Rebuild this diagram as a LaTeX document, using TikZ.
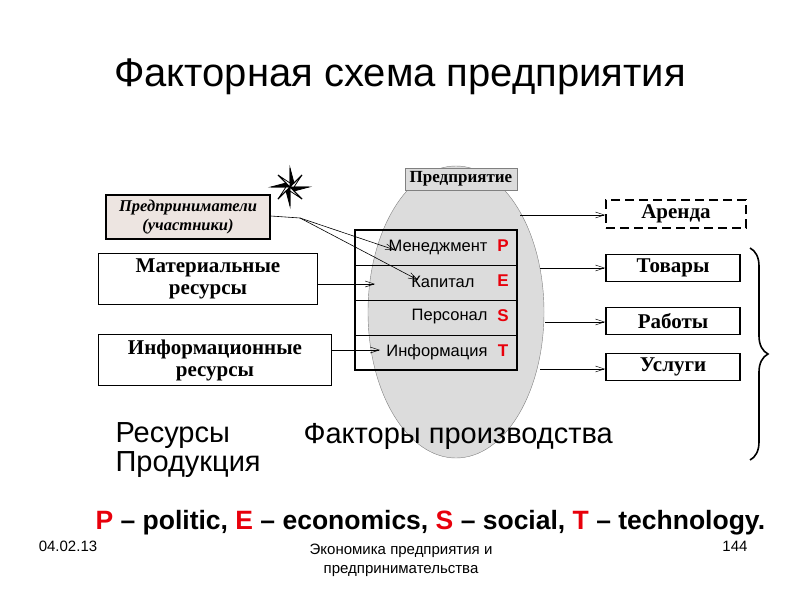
\documentclass[tikz,border=0pt]{standalone}
\usepackage{fontspec}
\setmainfont{Liberation Sans}
\newfontfamily\tnr{Liberation Serif}
\usetikzlibrary{decorations.pathreplacing,arrows.meta}
\definecolor{ellg}{HTML}{DCDCDC}
\definecolor{pinkg}{HTML}{EDE5E1}
\definecolor{redt}{HTML}{E8000B}
\begin{document}
\begin{tikzpicture}[x=1pt,y=-1pt,
  box/.style={draw,line width=1.6pt,inner sep=0pt,font=\tnr\bfseries\fontsize{21}{22}\selectfont,align=center},
  arr/.style={-{Straight Barb[length=9pt,width=6pt,line width=0.5pt]},line width=0.6pt},
  row/.style={anchor=east,font=\fontsize{16.5}{18}\selectfont},
  lett/.style={font=\bfseries\fontsize{17}{18}\selectfont,text=redt}]
\useasboundingbox (0,0) rectangle (800,600);
\node[font=\fontsize{40}{44}\selectfont] (title) at (400,77) {Факторная схема предприятия};
% ellipse
\draw[fill=ellg,draw=gray] (456,312) ellipse [x radius=88, y radius=146];
\node[draw=gray,fill=ellg,minimum width=112,minimum height=22,inner sep=0pt,font=\tnr\bfseries\fontsize{17}{18}\selectfont] (hdr) at (461,179) {Предприятие};
% table
\draw[line width=0.7pt] (355,265) -- (517,265) (355,300) -- (517,300) (355,335) -- (517,335);
\draw[line width=1.6pt] (355,230) rectangle (517,370);
\node[row] (m) at (491,247) {Менеджмент}; \node[lett] (mp) at (503,246) {P};
\node[row] (k) at (478,282) {Капитал}; \node[lett] (ke) at (503,281) {E};
\node[row] (p) at (491,317) {Персонал}; \node[lett] (ps) at (503,316) {S};
\node[row] (i) at (491,352) {Информация}; \node[lett] (it) at (503,351) {T};
% left boxes
\node[box,fill=pinkg,minimum width=164,minimum height=44,font=\tnr\bfseries\itshape\fontsize{16.5}{19}\selectfont] (pr) at (188,217) {Предприниматели\\(участники)};
\node[box,minimum width=219,minimum height=51] (mat) at (208,279) {Материальные\\ресурсы};
\node[box,minimum width=233,minimum height=51] (inf) at (215,360) {Информационные\\ресурсы};
\coordinate (pj) at (300,218);
\coordinate (m1) at (395,250);
\coordinate (k1) at (418,280);
\draw[line width=0.6pt] (pr.east |- 0,216) -- (pj);
\draw[arr] (pj) -- (m1);
\draw[arr] (pj) -- (k1);
\coordinate (ma) at (375,284); \draw[arr] (mat.east |- ma) -- (ma);
\coordinate (ia) at (380,350); \draw[arr] (inf.east |- ia) -- (ia);
% star (compass rose)
\coordinate (star) at (290,187);
\begin{scope}[shift={(star)},line width=0.8pt]
\draw[fill=white] (0,-19) -- (4,-4) -- (12,-12) -- (4,0) -- (19,0) -- (4,4) -- (12,12) -- (0,4) -- (0,19) -- (-4,4) -- (-12,12) -- (-4,0) -- (-19,0) -- (-4,-4) -- (-12,-12) -- (0,-4) -- cycle;
\fill (0,-19) -- (0,0) -- (4,-4) -- cycle (19,0) -- (0,0) -- (4,4) -- cycle (0,19) -- (0,0) -- (-4,4) -- cycle (-19,0) -- (0,0) -- (-4,-4) -- cycle;
\draw (0,-19) -- (0,19) (-19,0) -- (19,0) (-12,-12) -- (12,12) (-12,12) -- (12,-12);
\end{scope}
% right boxes
\node[box,dashed,dash pattern=on 9pt off 5pt,minimum width=140,minimum height=28] (ar) at (676,214) {Аренда};
\node[box,minimum width=134,minimum height=27] (tv) at (673,268) {Товары};
\node[box,minimum width=134,minimum height=27] (rb) at (673,321) {Работы};
\node[box,minimum width=134,minimum height=27] (us) at (673,367) {Услуги};
\coordinate (a0) at (520,215); \draw[arr] (a0) -- (ar.west |- a0);
\coordinate (t0) at (540,268); \draw[arr] (t0) -- (tv.west);
\coordinate (r0) at (545,322); \draw[arr] (r0) -- (rb.west |- r0);
\coordinate (u0) at (540,369); \draw[arr] (u0) -- (us.west |- u0);
% brace
\coordinate (b1) at (750,248); \coordinate (b2) at (750,460);
\draw[line width=1.6pt,decorate,decoration={brace,amplitude=18pt}] (b1) -- (b2);
% texts
\node[anchor=west,font=\fontsize{29}{32}\selectfont] (res) at (112,436) {Ресурсы};
\node[anchor=west,font=\fontsize{29}{32}\selectfont] (fac) at (300,436) {Факторы производства};
\node[anchor=west,font=\fontsize{29}{32}\selectfont] (prod) at (112,465) {Продукция};
\node[anchor=west,font=\bfseries\fontsize{26.5}{30}\selectfont] (pest) at (92,523) {\textcolor{redt}{P} – politic, \textcolor{redt}{E} – economics, \textcolor{redt}{S} – social, \textcolor{redt}{T} – technology.};
\node[font=\fontsize{15}{17}\selectfont] (date) at (68,546) {04.02.13};
\node[font=\fontsize{15}{19}\selectfont,align=center] (ft) at (401,560) {Экономика предприятия и\\предпринимательства};
\node[font=\fontsize{15}{17}\selectfont] (pg) at (735,546) {144};
\end{tikzpicture}
\end{document}
